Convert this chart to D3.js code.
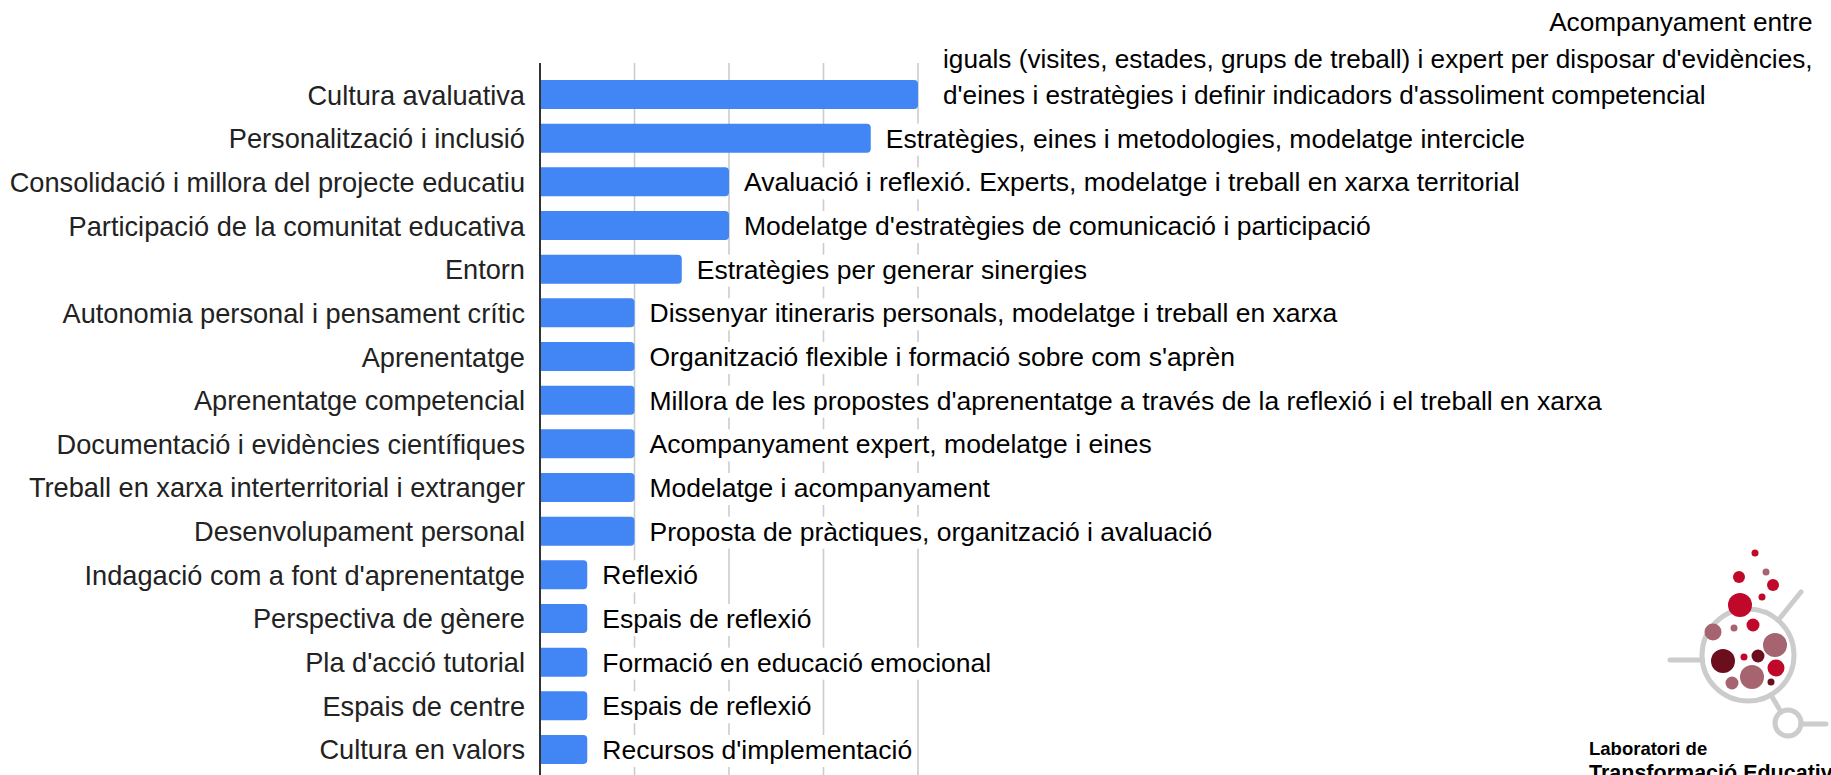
<!DOCTYPE html>
<html>
<head>
<meta charset="utf-8">
<script src="https://cdn.jsdelivr.net/npm/d3@7"></script>
<style>
  html, body { margin: 0; padding: 0; background: #fff; }
  svg { display: block; font-family: Arial, "Liberation Sans", sans-serif; }
</style>
</head>
<body>
<div id="chart"></div>
<script>
// Data
var categories = [
    "Cultura avaluativa",
    "Personalització i inclusió",
    "Consolidació i millora del projecte educatiu",
    "Participació de la comunitat educativa",
    "Entorn",
    "Autonomia personal i pensament crític",
    "Aprenentatge",
    "Aprenentatge competencial",
    "Documentació i evidències científiques",
    "Treball en xarxa interterritorial i extranger",
    "Desenvolupament personal",
    "Indagació com a font d'aprenentatge",
    "Perspectiva de gènere",
    "Pla d'acció tutorial",
    "Espais de centre",
    "Cultura en valors"
];

var values = [4, 3.5, 2, 2, 1.5, 1, 1, 1, 1, 1, 1, 0.5, 0.5, 0.5, 0.5, 0.5];

var annotations = [
    ["Acompanyament entre",
     "iguals (visites, estades, grups de treball) i expert per disposar d'evidències,",
     "d'eines i estratègies i definir indicadors d'assoliment competencial"],
    ["Estratègies, eines i metodologies, modelatge intercicle"],
    ["Avaluació i reflexió. Experts, modelatge i treball en xarxa territorial"],
    ["Modelatge d'estratègies de comunicació i participació"],
    ["Estratègies per generar sinergies"],
    ["Dissenyar itineraris personals, modelatge i treball en xarxa"],
    ["Organització flexible i formació sobre com s'aprèn"],
    ["Millora de les propostes d'aprenentatge a través de la reflexió i el treball en xarxa"],
    ["Acompanyament expert, modelatge i eines"],
    ["Modelatge i acompanyament"],
    ["Proposta de pràctiques, organització i avaluació"],
    ["Reflexió"],
    ["Espais de reflexió"],
    ["Formació en educació emocional"],
    ["Espais de reflexió"],
    ["Recursos d'implementació"]
];

var xTicks = [1, 2, 3, 4];

var logoTitle = ["Laboratori de", "Transformació Educativa"];

// Layout
var width = 1831;
var height = 775;
var axisX = 540;
var plotTop = 63;

var svg = d3.select('#chart').append('svg')
    .attr('width', width)
    .attr('height', height);

var x = d3.scaleLinear()
    .domain([0, 4])
    .range([axisX, 918]);

var y = d3.scaleBand()
    .domain(categories)
    .range([plotTop, 781])
    .paddingInner(0.336)
    .paddingOuter(0.39);

// gridlines
svg.selectAll('.grid')
    .data(xTicks)
    .enter().append('line')
    .attr('class', 'grid')
    .attr('x1', function (d) { return x(d); })
    .attr('x2', function (d) { return x(d); })
    .attr('y1', plotTop)
    .attr('y2', height)
    .style('stroke', '#cccccc')
    .style('stroke-width', 1.6);

// bars, rounded only on the right end
function barPath(d, i) {
    var x0 = x(0), x1 = x(d), y0 = y(categories[i]), h = y.bandwidth(), r = 4;
    return 'M' + x0 + ',' + y0 +
        'H' + (x1 - r) +
        'Q' + x1 + ',' + y0 + ' ' + x1 + ',' + (y0 + r) +
        'V' + (y0 + h - r) +
        'Q' + x1 + ',' + (y0 + h) + ' ' + (x1 - r) + ',' + (y0 + h) +
        'H' + x0 + 'Z';
}

svg.selectAll('.bar')
    .data(values)
    .enter().append('path')
    .attr('class', 'bar')
    .attr('d', barPath)
    .style('fill', '#4285f4');

// category labels
svg.selectAll('.cat')
    .data(categories)
    .enter().append('text')
    .attr('class', 'cat')
    .attr('x', axisX - 15)
    .attr('y', function (d) { return y(d) + y.bandwidth() / 2 + 10; })
    .attr('text-anchor', 'end')
    .style('font-size', '27.2px')
    .style('fill', '#222222')
    .text(function (d) { return d; });

// annotations with a white backing that hides the gridlines
var lineHeight = 36.5;
var annG = svg.append('g').attr('class', 'annotations');

annotations.forEach(function (lines, i) {
    var cy = y(categories[i]) + y.bandwidth() / 2;
    var n = lines.length;
    var tx = x(values[i]) + (n > 1 ? 25 : 15);
    var texts = [];
    lines.forEach(function (line, j) {
        var t = annG.append('text')
            .attr('x', tx)
            .attr('y', cy - (n - 1 - j) * lineHeight + 9.5)
            .style('font-size', n > 1 ? '26.2px' : '26.5px')
            .style('fill', '#000')
            .text(line);
        texts.push(t);
    });
    if (n > 1) {
        // first line sits right-aligned over the block
        var maxLen = d3.max(texts.slice(1), function (t) { return t.node().getComputedTextLength(); });
        texts[0].attr('x', tx + maxLen).attr('text-anchor', 'end');
    }
    texts.forEach(function (t) {
        var b = t.node().getBBox();
        annG.insert('rect', function () { return t.node(); })
            .attr('x', b.x - 2)
            .attr('y', b.y)
            .attr('width', b.width + 4)
            .attr('height', b.height + 2)
            .style('fill', '#fff');
    });
});

// axis line
svg.append('line')
    .attr('x1', axisX)
    .attr('x2', axisX)
    .attr('y1', plotTop)
    .attr('y2', height)
    .style('stroke', '#333333')
    .style('stroke-width', 2);

// logo
var logo = svg.append('g').attr('class', 'logo');
var ringColor = '#cccccc';

logo.append('circle')
    .attr('cx', 1748).attr('cy', 655).attr('r', 46)
    .style('fill', 'none').style('stroke', ringColor).style('stroke-width', 5);
[[1780, 618, 1801, 592], [1670, 660, 1702, 660], [1771, 695, 1781, 712], [1801, 724, 1826, 724]]
    .forEach(function (l) {
        logo.append('line')
            .attr('x1', l[0]).attr('y1', l[1]).attr('x2', l[2]).attr('y2', l[3])
            .style('stroke', ringColor).style('stroke-width', 5)
            .style('stroke-linecap', 'round');
    });
logo.append('circle')
    .attr('cx', 1788).attr('cy', 723).attr('r', 13)
    .style('fill', 'none').style('stroke', ringColor).style('stroke-width', 5);

var red = '#c0092a', mauve = '#a5646f', dark = '#6b0f1f';
var dots = [
    [1755, 553, 3.5, red], [1766, 572, 3.5, mauve], [1739, 577, 6, red],
    [1773, 585, 6, red], [1762, 597, 3.5, red], [1740, 605, 12, red],
    [1713, 632, 8.5, mauve], [1734, 628, 3.5, mauve], [1753, 625, 6.5, red],
    [1775, 645, 12, mauve], [1723, 661, 12, dark], [1744, 657, 3.5, red],
    [1758, 656, 6.5, dark], [1776, 668, 8.5, red], [1752, 677, 12, mauve],
    [1732, 683, 6.5, mauve], [1771, 682, 3.5, dark]
];
logo.selectAll('.dot')
    .data(dots)
    .enter().append('circle')
    .attr('class', 'dot')
    .attr('cx', function (d) { return d[0]; })
    .attr('cy', function (d) { return d[1]; })
    .attr('r', function (d) { return d[2]; })
    .style('fill', function (d) { return d[3]; });

logo.selectAll('.ltitle')
    .data(logoTitle)
    .enter().append('text')
    .attr('class', 'ltitle')
    .attr('x', 1589)
    .attr('y', function (d, i) { return i ? 780 : 755; })
    .style('font-size', function (d, i) { return i ? '21.5px' : '18.5px'; })
    .style('font-weight', 'bold')
    .style('fill', '#000')
    .text(function (d) { return d; });
</script>
</body>
</html>
